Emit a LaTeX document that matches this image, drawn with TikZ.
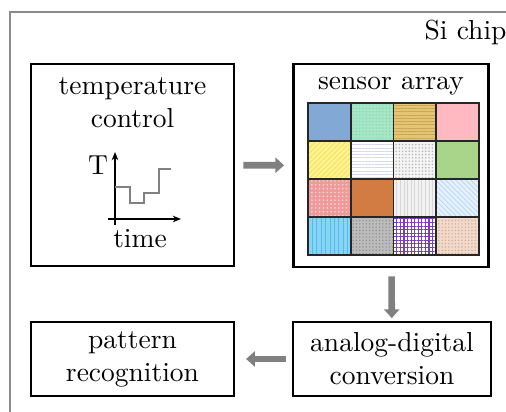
\documentclass[tikz,border=0pt]{standalone}
\usetikzlibrary{arrows.meta,patterns.meta}
\newlength\pxu
\setlength\pxu{0.3636pt}
\definecolor{cblue}{HTML}{82A9D4}
\definecolor{cmint}{HTML}{A6E6C6}
\definecolor{cmintdk}{HTML}{86D4AE}
\definecolor{cgold}{HTML}{E3C573}
\definecolor{cgolddk}{HTML}{CBA654}
\definecolor{cpink}{HTML}{FFB9C1}
\definecolor{cyel}{HTML}{FFF38A}
\definecolor{cyeldk}{HTML}{EEE070}
\definecolor{chline}{HTML}{D2DAEC}
\definecolor{cdotbg}{HTML}{F4F4F4}
\definecolor{cdotdk}{HTML}{B4B4B4}
\definecolor{cgreen}{HTML}{A9D58B}
\definecolor{csalmon}{HTML}{EE9A9A}
\definecolor{csalmonlt}{HTML}{FAD0D0}
\definecolor{corange}{HTML}{D27B42}
\definecolor{cvert}{HTML}{F2F2F2}
\definecolor{cvertdk}{HTML}{D6D6D6}
\definecolor{clblue}{HTML}{E6F2FF}
\definecolor{clbluedk}{HTML}{BCD6F0}
\definecolor{ccyan}{HTML}{84D6F6}
\definecolor{ccyandk}{HTML}{62B6E4}
\definecolor{cgray}{HTML}{BCBCBC}
\definecolor{cgraydk}{HTML}{929292}
\definecolor{cpurp}{HTML}{7A3FB8}
\definecolor{cbeige}{HTML}{F2DACB}
\definecolor{cbeigedk}{HTML}{D0AE9E}
\tikzset{
  box/.style={draw=black, line width=0.8pt, inner sep=0pt, align=center},
  fat/.style={-{Triangle[length=3.2pt,width=5.5pt]}, line width=2.4pt,
    draw=black!50, shorten <=3pt, shorten >=3pt},
  cA/.style={fill=cblue},
  cB/.style={fill=cmint, postaction={pattern={Dots[radius=0.25pt,distance=1.2pt]}, pattern color=cmintdk}},
  cC/.style={fill=cgold, postaction={pattern={Lines[angle=0,distance=1.2pt,line width=0.3pt]}, pattern color=cgolddk}},
  cD/.style={fill=cpink},
  cE/.style={fill=cyel, postaction={pattern={Lines[angle=45,distance=1.3pt,line width=0.3pt]}, pattern color=cyeldk}},
  cF/.style={fill=white, postaction={pattern={Lines[angle=0,distance=1.2pt,line width=0.3pt]}, pattern color=chline}},
  cG/.style={fill=cdotbg, postaction={pattern={Dots[radius=0.3pt,distance=1.2pt]}, pattern color=cdotdk}},
  cH/.style={fill=cgreen},
  cI/.style={fill=csalmon, postaction={pattern={Dots[radius=0.35pt,distance=1.4pt]}, pattern color=csalmonlt}},
  cJ/.style={fill=corange},
  cK/.style={fill=cvert, postaction={pattern={Lines[angle=90,distance=1.3pt,line width=0.3pt]}, pattern color=cvertdk}},
  cL/.style={fill=clblue, postaction={pattern={Lines[angle=-45,distance=1.3pt,line width=0.3pt]}, pattern color=clbluedk}},
  cM/.style={fill=ccyan, postaction={pattern={Lines[angle=90,distance=1.6pt,line width=0.3pt]}, pattern color=ccyandk}},
  cN/.style={fill=cgray, postaction={pattern={Dots[radius=0.3pt,distance=1.2pt]}, pattern color=cgraydk}},
  cO/.style={fill=white, postaction={pattern={Hatch[distance=1.3pt,line width=0.4pt]}, pattern color=cpurp}},
  cP/.style={fill=cbeige, postaction={pattern={Dots[radius=0.3pt,distance=1.2pt]}, pattern color=cbeigedk}},
}
\begin{document}
\begin{tikzpicture}[
    x = \pxu,
    y = -\pxu,
    ]
    \useasboundingbox (0,0) rectangle (506,412);
    \clip (0,0) rectangle (506,412);
    % chip frame
    \draw[draw=black!45, line width=0.8pt] (10,12) rectangle (540,450);
    \node[anchor=east, inner sep=0pt] (chip) at (507,32) {Si chip};
    % boxes
    \node[box, minimum width=203*\pxu, minimum height=202*\pxu] (temp) at (132.5,165) {};
    \node[box, minimum width=195*\pxu, minimum height=203*\pxu] (sensor) at (391,165.5) {};
    \node[box, minimum width=198*\pxu, minimum height=74*\pxu] (adc) at (392,359) {analog-digital\\conversion};
    \node[box, minimum width=203*\pxu, minimum height=74*\pxu] (pat) at (132.5,359) {pattern\\recognition};
    \node[align=center] (templbl) at (132.5,103) {temperature\\control};
    \node (sensorlbl) at (391,86) {sensor array};
    % temperature plot
    \draw[-{Stealth[length=3pt,width=2.4pt]}, line width=0.5pt] (108,219) -- (181,219);
    \draw[-{Stealth[length=3pt,width=2.4pt]}, line width=0.5pt] (115,225) -- (115,152);
    \draw[draw=black!50, line width=0.6pt]
    (115,187) -- (130,187) -- (130,203) -- (144,203) -- (144,193)
    -- (159,193) -- (159,169) -- (171,169);
    \node (tlbl) at (98,165) {T};
    \node (timelbl) at (140,239) {time};
    % sensor cells
    \foreach \j/\i/\s in {0/0/cA, 0/1/cB, 0/2/cC, 0/3/cD,
                          1/0/cE, 1/1/cF, 1/2/cG, 1/3/cH,
                          2/0/cI, 2/1/cJ, 2/2/cK, 2/3/cL,
                          3/0/cM, 3/1/cN, 3/2/cO, 3/3/cP}
    \path[\s] (308+\i*42.75, 103+\j*38) rectangle ++(42.75,38);
    \foreach \i in {1, 2, 3}
    \draw[line width=0.6pt, draw=black!85] (308+\i*42.75, 103) -- (308+\i*42.75, 255);
    \foreach \j in {1, 2, 3}
    \draw[line width=0.6pt, draw=black!85] (308, 103+\j*38) -- (479, 103+\j*38);
    \draw[line width=0.7pt, draw=black!85] (308,103) rectangle (479,255);
    % arrows
    \draw[fat] (temp) -- (sensor);
    \draw[fat, shorten >=1pt] (sensor) -- (adc);
    \draw[fat, shorten <=2pt, shorten >=4pt] (adc) -- (pat);
\end{tikzpicture}
\end{document}
